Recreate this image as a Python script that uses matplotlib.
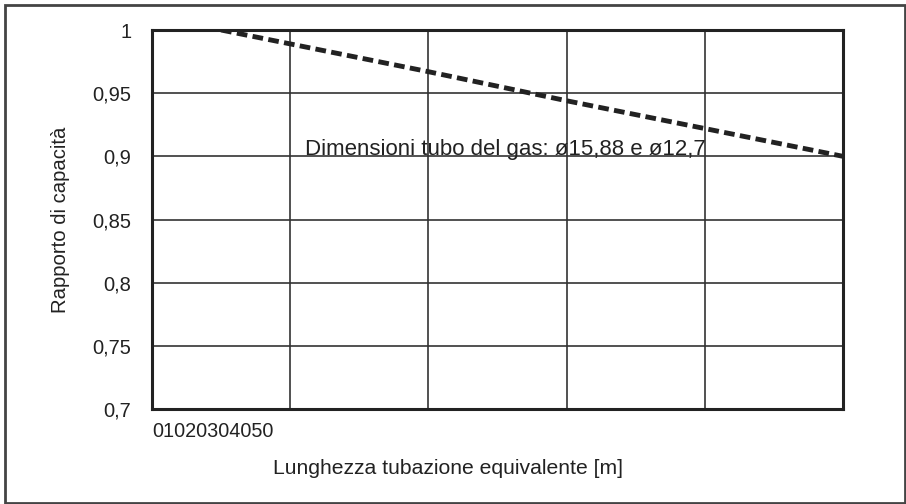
import matplotlib.pyplot as plt
from matplotlib.patches import Rectangle

# data
lengths = [5, 10, 20, 30, 40, 50]
capacity_ratio = [1.0, 0.989, 0.967, 0.944, 0.922, 0.9]
x_ticks = [0, 10, 20, 30, 40, 50]
x_tick_labels = ['0', '10', '20', '30', '40', '50']
y_ticks = [0.7, 0.75, 0.8, 0.85, 0.9, 0.95, 1.0]
y_tick_labels = ['0,7', '0,75', '0,8', '0,85', '0,9', '0,95', '1']
note = 'Dimensioni tubo del gas: ø15,88 e ø12,7'

plt.rcParams['font.family'] = ['Liberation Sans', 'DejaVu Sans']

fig = plt.figure(figsize=(9.06, 5.04), dpi=100)
fig.patches.append(Rectangle((5 / 906, 1 / 504), 900 / 906, 498 / 504,
                             transform=fig.transFigure, fill=False,
                             edgecolor='#444444', linewidth=2))

ax = fig.add_axes([152 / 906, 1 - 409 / 504, 691 / 906, 379 / 504])
ax.plot(lengths, capacity_ratio, color='#222222', linewidth=3.5,
        linestyle=(0, (2.2, 1.1)))
ax.set_xlim(0, 50)
ax.set_ylim(0.7, 1.0)

ax.set_xticks(x_ticks)
ax.set_xticklabels([''] * len(x_ticks))
ax.set_yticks(y_ticks)
ax.set_yticklabels(y_tick_labels, fontsize=14.5, color='#222222')
ax.tick_params(length=0)
ax.tick_params(axis='y', pad=15)

ax.grid(True, color='#333333', linewidth=1.2)
for s in ax.spines.values():
    s.set_linewidth(2.2)
    s.set_color('#222222')

# squashed x tick labels as in the original
ax.text(0, -0.06, ''.join(x_tick_labels), transform=ax.transAxes,
        fontsize=14.3, ha='left', va='center', color='#222222')

ax.text(11.1, 0.9008, note, fontsize=16, ha='left', va='baseline', color='#222222')

fig.text(448 / 906, 1 - 468 / 504, 'Lunghezza tubazione equivalente [m]',
         fontsize=15.2, ha='center', va='center', color='#222222')
fig.text(60 / 906, 1 - 220 / 504, 'Rapporto di capacità', rotation=90,
         fontsize=14.6, ha='center', va='center', color='#222222')

fig.savefig('out.png', dpi=100)
